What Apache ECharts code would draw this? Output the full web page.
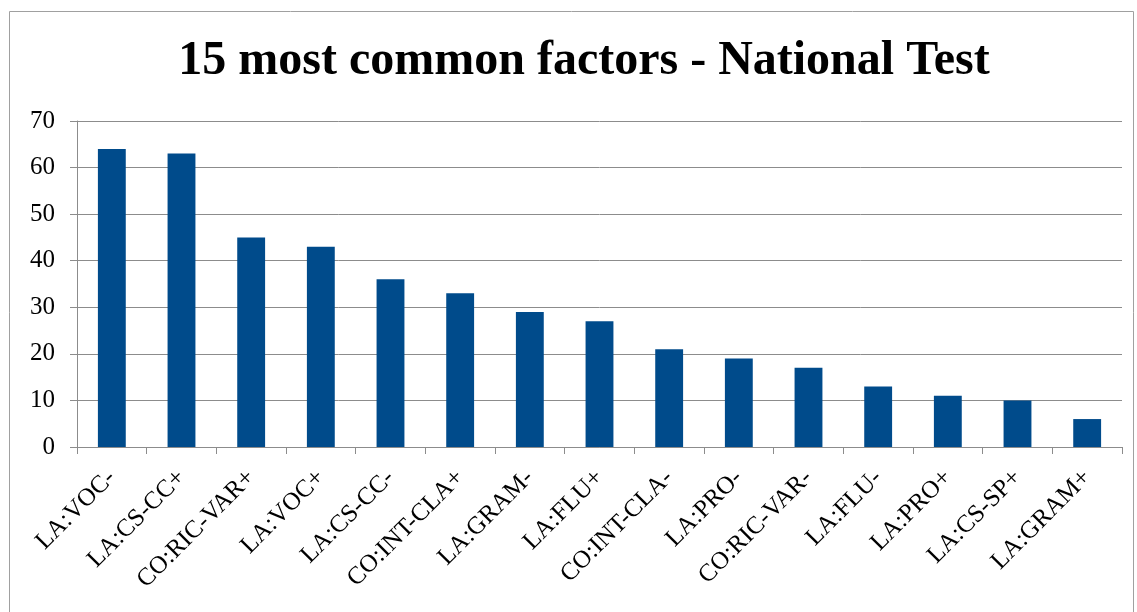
<!DOCTYPE html>
<html><head><meta charset="utf-8">
<script src="https://cdn.jsdelivr.net/npm/echarts@6/dist/echarts.min.js"></script>
<style>html,body{margin:0;padding:0;background:#fff}#c{width:1137px;height:612px}</style>
</head><body><div id="c"></div>
<script>
const categories = ["LA:VOC-","LA:CS-CC+","CO:RIC-VAR+","LA:VOC+","LA:CS-CC-","CO:INT-CLA+","LA:GRAM-","LA:FLU+","CO:INT-CLA-","LA:PRO-","CO:RIC-VAR-","LA:FLU-","LA:PRO+","LA:CS-SP+","LA:GRAM+"];
const values = [64,63,45,43,36,33,29,27,21,19,17,13,11,10,6];
const chart = echarts.init(document.getElementById('c'));
const font = '"Liberation Serif", "Times New Roman", serif';
chart.setOption({
  animation:false,
  title:{text:'15 most common factors - National Test',left:579,textAlign:'center',top:33,
    textStyle:{fontFamily:font,fontSize:48,fontWeight:'bold',color:'#000'}},
  graphic:[{type:'rect',shape:{x:9.5,y:11.5,width:1124,height:640},style:{fill:'none',stroke:'#a0a0a0',lineWidth:1}}],
  grid:{left:77,right:15,top:121,bottom:165,containLabel:false},
  xAxis:{type:'category',data:categories,boundaryGap:true,
    axisLine:{lineStyle:{color:'#8c8c8c',width:1}},
    axisTick:{show:true,alignWithLabel:false,length:7,lineStyle:{color:'#8c8c8c'}},
    axisLabel:{rotate:45,interval:0,margin:27,fontFamily:font,fontSize:25,color:'#000'}},
  yAxis:{type:'value',min:0,max:70,interval:10,
    axisLine:{show:true,lineStyle:{color:'#8c8c8c'}},
    axisTick:{show:true,length:7,lineStyle:{color:'#8c8c8c'}},
    splitLine:{lineStyle:{color:'#8c8c8c',width:1}},
    axisLabel:{fontFamily:font,fontSize:25,color:'#000',margin:22}},
  series:[{type:'bar',data:values,barWidth:'40%',itemStyle:{color:'#004b8b'}}]
});
</script></body></html>
